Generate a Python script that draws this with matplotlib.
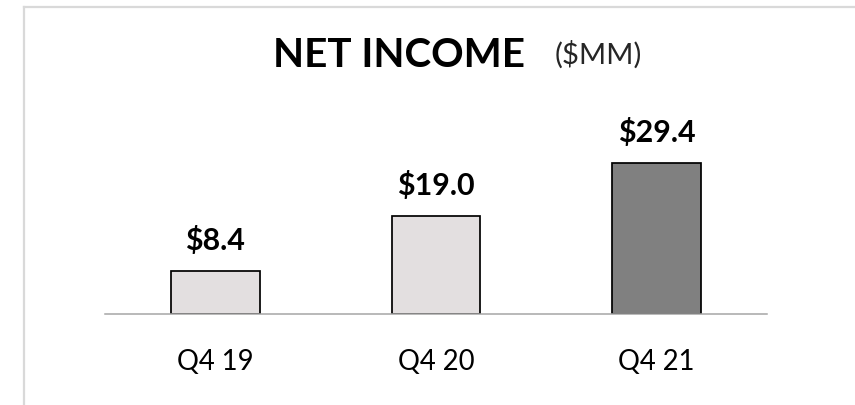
import matplotlib
matplotlib.use("Agg")
import matplotlib.pyplot as plt
from matplotlib.lines import Line2D

categories = ["Q4 19", "Q4 20", "Q4 21"]
values = [8.4, 19.0, 29.4]
value_labels = ["$8.4", "$19.0", "$29.4"]
bar_colors = ["#E3DFE0", "#E3DFE0", "#808080"]

W, H = 855, 405
plt.rcParams['font.family'] = ['Lato', 'DejaVu Sans']
fig = plt.figure(figsize=(W / 100, H / 100), dpi=100)
fig.patch.set_facecolor("white")

ax = fig.add_axes([105 / W, (H - 314) / H, (767 - 105) / W, 206 / H])
x = list(range(len(categories)))
ax.bar(x, values, width=0.403, color=bar_colors, edgecolor="#000000", linewidth=1.25, zorder=1)
ax.set_xlim(-0.5, len(categories) - 0.5)
ax.set_ylim(0, 40)
ax.set_yticks([])
for s in ["top", "left", "right"]:
    ax.spines[s].set_visible(False)
ax.spines["bottom"].set_color("#A6A6A6")
ax.spines["bottom"].set_linewidth(1.1)
ax.spines["bottom"].set_zorder(3)
ax.set_xticks(x)
ax.set_xticklabels(categories, fontsize=21, color="#000000")
ax.tick_params(axis="x", length=0, pad=40.3)
for lbl in ax.get_xticklabels():
    lbl.set_verticalalignment("baseline")
ax.patch.set_alpha(0)

anns = []
for xi, v, lab in zip(x, values, value_labels):
    a = ax.annotate(lab, (xi, v), xytext=(0, 15.1), textcoords="offset points",
                    ha="center", va="baseline", fontsize=20, fontweight="bold", color="#000000")
    anns.append(a)

t1 = fig.text(273 / W, 1 - 67 / H, "NET INCOME", ha="left", va="baseline",
              fontsize=26, fontweight="bold", color="#000000")
t2 = fig.text(555 / W, 1 - 63.5 / H, "($MM)", ha="left", va="baseline",
              fontsize=17, color="#262626")

# fit font sizes to measured widths
renderer = fig.canvas.get_renderer()
def fit(texts, ref, target):
    w = ref.get_window_extent(renderer).width
    s = ref.get_fontsize() * target / w
    for t in texts:
        t.set_fontsize(s)

fit([t1], t1, 252)
fit([t2], t2, 87)
fit(anns, anns[1], 78)
ticks = ax.get_xticklabels()
fit(ticks, ticks[0], 77)

# frame lines (top and left)
fig.add_artist(Line2D([24 / W, 1.0], [1 - 6.5 / H, 1 - 6.5 / H], transform=fig.transFigure,
                      color="#D9D9D9", linewidth=1.6))
fig.add_artist(Line2D([24 / W, 24 / W], [0, 1 - 6.5 / H], transform=fig.transFigure,
                      color="#D9D9D9", linewidth=1.6))

fig.savefig("out.png", dpi=100, facecolor="white")
